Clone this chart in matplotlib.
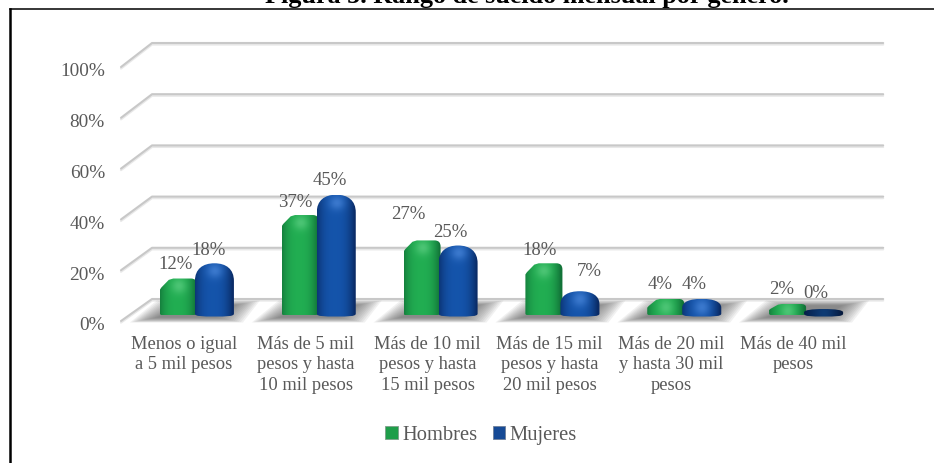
import numpy as np
import matplotlib
matplotlib.use('Agg')
import matplotlib.pyplot as plt
from matplotlib.lines import Line2D
from matplotlib.patches import Patch, PathPatch
from matplotlib.path import Path
from matplotlib.transforms import ScaledTranslation

# Data
categorias = ['Menos o igual\na 5 mil pesos', 'Más de 5 mil\npesos y hasta\n10 mil pesos',
              'Más de 10 mil\npesos y hasta\n15 mil pesos', 'Más de 15 mil\npesos y hasta\n20 mil pesos',
              'Más de 20 mil\ny hasta 30 mil\npesos', 'Más de 40 mil\npesos']
hombres = [12, 37, 27, 18, 4, 2]
mujeres = [18, 45, 25, 7, 4, 0]
y_ticks = [0, 20, 40, 60, 80, 100]

# Label nudges in pixels (the original labels were placed by hand)
nudge_h = [(-2, 15), (-4, 14), (-13, 27), (-4, 14), (-5, 15), (-5, 15)]
nudge_m = [(-6, 14), (-7, 15), (-8, 14), (9, 21), (-8, 15), (-8, 16)]

W, H = 934, 464
PX_X = 1 / 121.8   # data units per pixel
PX_Y = 1 / 2.54
SHIFT = 12 * PX_X  # bars sit to the right of their tick, 3D look
GREY = '#595959'
SERIF = 'Liberation Serif'

GREEN = (np.array([0.07, 0.45, 0.22]), np.array([0.13, 0.68, 0.32]), np.array([0.35, 0.80, 0.50]))
BLUE = (np.array([0.04, 0.17, 0.40]), np.array([0.08, 0.33, 0.67]), np.array([0.28, 0.52, 0.85]))
NAVY = (np.array([0.02, 0.10, 0.24]), np.array([0.04, 0.18, 0.38]), np.array([0.06, 0.25, 0.48]))


def shape_green(x0, x1, b, t):
    w, h = x1 - x0, t - b
    s = t - min(4.4, h * 0.55)
    return Path([(x0, b + 0.6), (x0, s), (x0 + w * 0.04, s + (t - s) * 0.2),
                 (x0 + w * 0.24, t - (t - s) * 0.12), (x0 + w * 0.36, t), (x0 + w * 0.84, t),
                 (x1, t), (x1, t - min(2.4, h * 0.3)), (x1, b + 0.8), (x1, b), (x0 + w * 0.9, b),
                 (x0 + w * 0.05, b), (x0, b), (x0, b + 0.6), (x0, b + 0.6)],
                [Path.MOVETO, Path.LINETO, Path.LINETO,
                 Path.LINETO, Path.LINETO, Path.LINETO,
                 Path.CURVE3, Path.CURVE3, Path.LINETO, Path.CURVE3, Path.CURVE3,
                 Path.LINETO, Path.CURVE3, Path.CURVE3, Path.CLOSEPOLY])


def shape_blue(x0, x1, b, t):
    w, h = x1 - x0, t - b
    s = t - min(7.0, h * 0.55)
    c = (x0 + x1) / 2
    r = (t - s) * 0.45
    return Path([(x0, b + 0.5), (x0, s), (x0, s + r * 1.5), (x0 + w * 0.2, t), (c, t),
                 (x1 - w * 0.2, t), (x1, s + r * 1.5), (x1, s), (x1, b + 0.5),
                 (x1, b - 0.6), (x1 - w * 0.2, b - 0.6), (c, b - 0.6),
                 (x0 + w * 0.2, b - 0.6), (x0, b - 0.6), (x0, b + 0.5), (x0, b + 0.5)],
                [Path.MOVETO, Path.LINETO, Path.CURVE4, Path.CURVE4, Path.CURVE4,
                 Path.CURVE4, Path.CURVE4, Path.CURVE4, Path.LINETO,
                 Path.CURVE4, Path.CURVE4, Path.CURVE4,
                 Path.CURVE4, Path.CURVE4, Path.CURVE4, Path.CLOSEPOLY])


def draw_bar(ax, x0, x1, value, shape, colors):
    # bar body, the cap adds some height as in the 3D original
    b = 6 * PX_Y
    t = b + value + 6 * PX_Y
    edge, mid, light = colors
    xs = np.linspace(-1, 1, 60)
    ys = np.linspace(0, 1, 80)
    xx, yy = np.meshgrid(xs, ys)
    across = np.clip(1 - np.abs(xx + 0.1) ** 2.6, 0, 1)[..., None]
    img = edge + (mid - edge) * across
    spot_y = 1 - min(7 * PX_Y / (t - b), 0.5)
    spot = np.exp(-((xx / 0.4) ** 2 + ((yy - spot_y) * (t - b) / PX_Y / 7) ** 2))[..., None]
    img = img + (light - img) * spot * 0.75
    im = ax.imshow(img, extent=(x0, x1, b - 1, t), origin='lower', aspect='auto',
                   interpolation='bilinear', zorder=4, clip_on=True)
    clip = PathPatch(shape(x0, x1, b, t), transform=ax.transData, fc='none', ec='none')
    ax.add_patch(clip)
    im.set_clip_path(clip)


def draw_shadow(ax, i):
    # soft floor shadow behind each pair of bars
    c = i + SHIFT - 10 * PX_X
    pts = np.array([[-48, 0], [-21, 19], [66, 19], [49, 0]], dtype=float)
    for k in range(14):
        grow = 5 - k * 1.3
        p = pts.copy()
        p[:, 0] += np.array([-grow * 1.6, -grow * 1.6, grow * 1.6, grow * 1.6])
        p[:, 1] += np.array([-grow * 0.3, grow * 0.3, grow * 0.3, -grow * 0.3])
        ax.fill(c + p[:, 0] * PX_X, p[:, 1] * PX_Y, color='#666666', alpha=0.09, lw=0, zorder=2,
                clip_on=False)


fig = plt.figure(figsize=(W / 100, H / 100), dpi=100)
ax = fig.add_axes([123 / W, 1 - 322 / H, 731 / W, 254 / H])

# 3D looking gridlines: front tip, back corner, back right end
for v in y_ticks:
    back = (22 + 2.56 * v) * PX_Y
    xs = [-0.5 - 2 * PX_X, -0.5 + 29 * PX_X, -0.5 + 760 * PX_X]
    ys = [v, back, back]
    ax.plot(xs, [y - 1.6 * PX_Y for y in ys], color='#e8e8e8', lw=1.5, clip_on=False, zorder=1,
            solid_capstyle='round')
    ax.plot(xs, ys, color='#c8c8c8', lw=1.5, clip_on=False, zorder=1.5, solid_capstyle='round')

for i in range(len(categorias)):
    draw_shadow(ax, i)
    x_mid = i + SHIFT
    draw_bar(ax, x_mid - 36 * PX_X, x_mid + 1 * PX_X, hombres[i], shape_green, GREEN)
    draw_bar(ax, x_mid - 1 * PX_X, x_mid + 38 * PX_X, mujeres[i], shape_blue,
             BLUE if mujeres[i] > 0 else NAVY)

    t_h = hombres[i] + 12 * PX_Y
    t_m = mujeres[i] + 12 * PX_Y
    ax.annotate(f'{hombres[i]}%', (x_mid - 18 * PX_X, t_h), xytext=(nudge_h[i][0] * 0.72, nudge_h[i][1] * 0.72),
                textcoords='offset points', ha='center', va='center', fontsize=13.5,
                family=SERIF, color=GREY, zorder=6, annotation_clip=False)
    ax.annotate(f'{mujeres[i]}%', (x_mid + 19 * PX_X, t_m), xytext=(nudge_m[i][0] * 0.72, nudge_m[i][1] * 0.72),
                textcoords='offset points', ha='center', va='center', fontsize=13.5,
                family=SERIF, color=GREY, zorder=6, annotation_clip=False)

ax.set_xlim(-0.5, 5.5)
ax.set_ylim(0, 100)
for s in ax.spines.values():
    s.set_visible(False)
ax.patch.set_visible(False)

ax.set_xticks(range(len(categorias)))
ax.set_xticklabels(categorias, family=SERIF, fontsize=13.3, color=GREY, linespacing=1.27)
ax.set_yticks(y_ticks)
ax.set_yticklabels([f'{v}%' for v in y_ticks], family=SERIF, fontsize=13.9, color=GREY)
ax.tick_params(axis='x', length=0, pad=10)
ax.tick_params(axis='y', length=0, pad=13)
for lab in ax.get_yticklabels():
    lab.set_transform(lab.get_transform() + ScaledTranslation(0, -2 / 100, fig.dpi_scale_trans))

handles = [Patch(fc='#1f9e4a', ec='#7f9f8a', lw=0.6, label='Hombres'),
           Patch(fc='#164a96', ec='#6f7f9a', lw=0.6, label='Mujeres')]
leg = fig.legend(handles=handles, loc='center', bbox_to_anchor=(481 / W, 1 - 436 / H), ncol=2,
                 frameon=False, prop={'family': SERIF, 'size': 14.8}, labelcolor=GREY,
                 handlelength=0.62, handleheight=0.62, handletextpad=0.2, columnspacing=0.75,
                 borderpad=0, borderaxespad=0)

# Title, cut by the top of the page in the original
fig.text(526.5 / W, 1 - 3 / H, 'Figura 5. Rango de sueldo mensual por género.', ha='center', va='baseline',
         family=SERIF, fontweight='bold', fontsize=18.8, color='black')

# Frame: only left and top sides are visible
fig.add_artist(Line2D([9.5 / W, 1], [1 - 9.5 / H, 1 - 9.5 / H], color='black', lw=1.1, transform=fig.transFigure))
fig.add_artist(Line2D([9.5 / W, 9.5 / W], [1 - 9.5 / H, 0], color='black', lw=1.8, transform=fig.transFigure))

fig.savefig('out.png', dpi=100)
